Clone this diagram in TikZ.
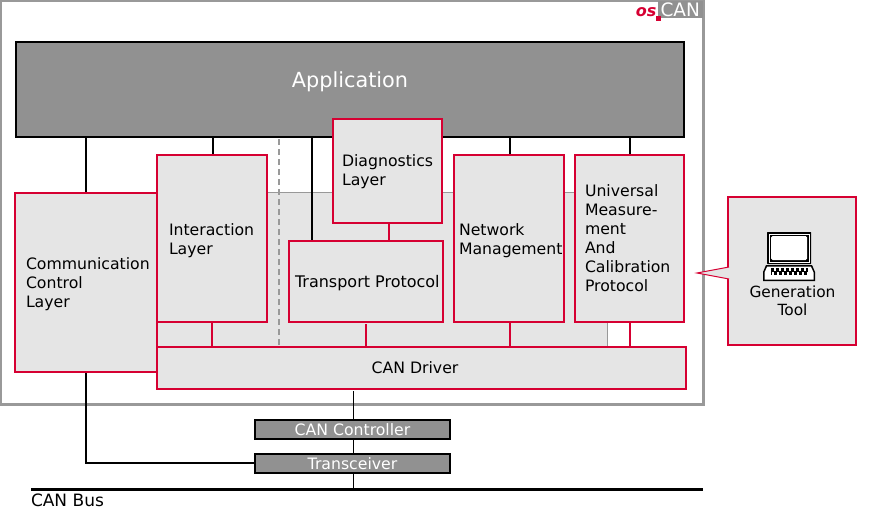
\documentclass[tikz,border=0pt]{standalone}
\usepackage{fontspec}
\setmainfont{DejaVu Sans}
\definecolor{osred}{RGB}{214,0,50}
\definecolor{panel}{RGB}{229,229,229}
\definecolor{appgray}{RGB}{145,145,145}
\definecolor{framegray}{RGB}{153,153,153}
\tikzset{
  every node/.style={outer sep=0pt},
  redbox/.style={draw=osred,fill=panel,line width=2.2pt,rectangle,inner sep=0pt,minimum width=#1},
  lab/.style={font=\fontsize{15.7}{18.9}\selectfont,align=left,text=black,inner sep=0pt},
  labc/.style={font=\fontsize{15.4}{18}\selectfont,align=center,text=black,inner sep=0pt},
  hw/.style={draw=black,fill=appgray,line width=2.2pt,rectangle,inner sep=0pt,text=white,font=\fontsize{15.7}{18}\selectfont},
  conb/.style={draw=black,line width=2.2pt},
  conr/.style={draw=osred,line width=2.2pt},
  thin1/.style={draw=black,line width=1pt}
}
\begin{document}
\begin{tikzpicture}[x=1pt,y=-1pt]
\useasboundingbox (0,0) rectangle (869,516);
% frame
\node[draw=framegray,line width=2.2pt,minimum width=702.5pt,minimum height=403.5pt,inner sep=0pt,anchor=north west] (frame) at (1,1) {};
% logo
\fill[appgray] (658,1) rectangle (703,18.5);
\node[inner sep=0pt,anchor=base west,text=white,font=\fontsize{18.5}{20}\selectfont] (can) at (660.5,16.8) {CAN};
\node[inner sep=0pt,anchor=base east,text=osred,font=\fontsize{16}{20}\selectfont\bfseries\itshape] (os) at (656.5,16.5) {os};
\fill[osred] (656,16) rectangle (661,21);
% grey back panel
\fill[panel] (157,193) rectangle (607,347);
\draw[framegray,line width=1pt] (157,192.5) -- (607.5,192.5) -- (607.5,347);
% application
\node[draw=black,fill=appgray,line width=2.2pt,inner sep=0pt,minimum width=668pt,minimum height=95pt,anchor=north west] (app) at (16,42) {};
\node[text=white,inner sep=0pt,font=\fontsize{20.8}{24}\selectfont] (applab) at (350,82) {Application};
% connectors
\coordinate (a1) at (86,138); \coordinate (a1b) at (86,193);
\draw[conb] (a1) -- (a1b);
\coordinate (a2) at (213,138); \coordinate (a2b) at (213,155);
\draw[conb] (a2) -- (a2b);
\coordinate (a3) at (312,138); \coordinate (a3b) at (312,241);
\draw[conb] (a3) -- (a3b);
\coordinate (a4) at (510,138); \coordinate (a4b) at (510,155);
\draw[conb] (a4) -- (a4b);
\coordinate (a5) at (630,138); \coordinate (a5b) at (630,155);
\draw[conb] (a5) -- (a5b);
\coordinate (d1) at (279,139); \coordinate (d1b) at (279,347);
\draw[framegray,line width=2.2pt,dash pattern=on 6pt off 4pt] (d1) -- (d1b);
% boxes
\node[redbox=142pt,minimum height=179pt,anchor=north west] (ccl) at (15,193) {};
\node[redbox=110pt,minimum height=167pt,anchor=north west] (il) at (157,155) {};
\node[redbox=109pt,minimum height=104pt,anchor=north west] (diag) at (333,119) {};
\node[redbox=154pt,minimum height=81pt,anchor=north west] (tp) at (289,241) {};
\node[redbox=110pt,minimum height=167pt,anchor=north west] (nm) at (454,155) {};
\node[redbox=109pt,minimum height=167pt,anchor=north west] (ump) at (575,155) {};
\node[redbox=529pt,minimum height=42pt,anchor=north west] (drv) at (157,347) {};
% red connectors
\coordinate (r1) at (212,322); \coordinate (r1b) at (212,347);
\draw[conr] (r1) -- (r1b);
\coordinate (r2) at (366,324); \coordinate (r2b) at (366,347);
\draw[conr] (r2) -- (r2b);
\coordinate (r3) at (510,322); \coordinate (r3b) at (510,347);
\draw[conr] (r3) -- (r3b);
\coordinate (r4) at (630,322); \coordinate (r4b) at (630,347);
\draw[conr] (r4) -- (r4b);
\coordinate (r5) at (389,223); \coordinate (r5b) at (389,241);
\draw[conr] (r5) -- (r5b);
% labels
\node[lab,anchor=north west] (l1) at (26,257.5) {Communication\\Control\\Layer};
\node[lab,anchor=north west] (l2) at (169,223.5) {Interaction\\Layer};
\node[lab,anchor=north west] (l3) at (342,155) {Diagnostics\\Layer};
\node[lab,anchor=base west,font=\fontsize{16}{19}\selectfont] (l4) at (295,287.5) {Transport Protocol};
\node[lab,anchor=north west] (l5) at (459,223.5) {Network\\Management};
\node[lab,anchor=north west] (l6) at (585,185) {Universal\\Measure-\\ment\\And\\Calibration\\Protocol};
\node[lab,anchor=base] (l7) at (415,373.5) {CAN Driver};
% generation tool
\path[fill=panel,draw=osred,line width=2.2pt] (728,267) -- (728,197) -- (856,197) -- (856,345) -- (728,345) -- (728,279);
\coordinate (tip) at (697,273);
\path[fill=panel] (729,267) -- (tip) -- (729,279) -- cycle;
\draw[osred,line width=1pt] (729,267) -- (tip) -- (729,279);
\node[labc,anchor=north] (l8) at (792.5,285.5) {Generation\\Tool};
% laptop
\fill[black,rounded corners=0.5pt] (767,232) rectangle (811,264);
\draw[white,line width=0.4pt] (768.8,233.8) rectangle (809.2,262.2);
\fill[white,rounded corners=1.5pt] (771,236) rectangle (807,260);
\path[fill=black] (766,265) -- (812,265) -- (815,272) -- (815,281) -- (763,281) -- (763,272) -- cycle;
\path[fill=white] (767.2,266.5) -- (810.8,266.5) -- (813.5,272.5) -- (813.5,279.5) -- (764.5,279.5) -- (764.5,272.5) -- cycle;
\draw[black,line width=3.5pt,dash pattern=on 3pt off 2pt] (771,269.8) -- (808,269.8);
\draw[black,line width=3.5pt,dash pattern=on 3pt off 2pt,dash phase=2.5pt] (771,273.2) -- (808,273.2);
% hardware
\node[hw,minimum width=195pt,minimum height=19pt,anchor=north west] (ctrl) at (255,420) {CAN Controller};
\node[hw,minimum width=195pt,minimum height=19pt,anchor=north west] (trc) at (255,454) {Transceiver};
\coordinate (bl) at (31,489.5); \coordinate (br) at (703,489.5);
\draw[black,line width=3pt] (bl) -- (br);
\node[inner sep=0pt,anchor=base west,font=\fontsize{17}{18}\selectfont] (bus) at (31,506.5) {CAN Bus};
\coordinate (v1) at (353.5,391); \coordinate (v2) at (353.5,489);
\draw[thin1] (v1) -- (ctrl.north -| v1);
\draw[thin1] (ctrl.south -| v1) -- (trc.north -| v1);
\draw[thin1] (trc.south -| v1) -- (v2);
\coordinate (c1) at (86,373);
\coordinate (c2) at (86,463);
\draw[conb] (c1) -- (c2) -- (trc.west |- c2);
\end{tikzpicture}
\end{document}
